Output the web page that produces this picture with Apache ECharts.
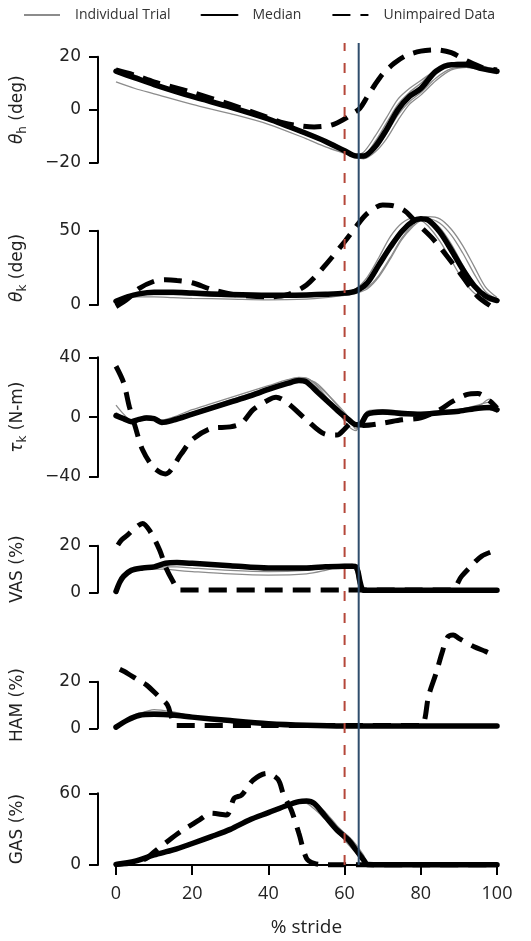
<!DOCTYPE html>
<html>
<head>
<meta charset="utf-8">
<script src="https://cdn.jsdelivr.net/npm/echarts@6/dist/echarts.min.js"></script>
<style>
html,body{margin:0;padding:0;background:#ffffff;}
#chart{width:531px;height:941px;}
</style>
</head>
<body>
<div id="chart"></div>
<script>
// ---------------- DATA ----------------
const legendNames = ['Individual Trial', 'Median', 'Unimpaired Data'];
const xTicks = [0, 20, 40, 60, 80, 100];
const eventLines = [60, 63.7]; // red dashed, blue solid (% stride)

// Panel 1: hip angle (deg)
const yTicksHip = [-20, 0, 20];
const xHip = [0,5,10,20,30,40,50,55,60,63,65,68,71,74,77,80,84,88,92,96,100];
const medHip = [14.5,12,9.5,5,1,-3.5,-9,-12,-15.5,-17.5,-17.5,-14,-7.5,0,5,8,14.5,17,17,15.5,14.5];
const trHip1 = [10.5,8,6,2,-1.5,-5.5,-11,-14,-16.5,-18,-18.5,-16,-11,-4,2,5.5,11,15,16,15,14];
const trHip2 = [15,12.5,10,5.5,1.5,-3,-8.5,-11.5,-15,-17,-16,-10,-3,4,8,11,15,17.5,18,16,15];
const trHip3 = [14,12,9,4.5,0.5,-4,-9.5,-12.5,-15.5,-18,-18,-15,-9,-2,3,6.5,12,15.5,16,15,13.5];
const trHip4 = [15.5,13,10,5.5,1.5,-3,-8.5,-11.5,-15,-17,-17,-12,-5,2,6.5,10,15,17.5,18,16.5,15];
const xUnHip = [0,5,10,20,30,40,44,48,52,56,58,60,62,64,66,68,70,73,76,80,84,88,92,96,100];
const unHip = [15,13,10.5,6.5,2,-3,-5,-6,-6.5,-6,-5,-3.5,-1.5,0.5,5,9.5,13.5,17.5,20.3,22.1,22.6,21.5,18.5,16,15];

// Panel 2: knee angle (deg)
const yTicksKnee = [0, 50];
const xKnee = [0,3,6,10,15,20,30,40,50,55,60,63,66,69,72,75,78,80,82,85,88,91,94,97,100];
const medKnee = [2.5,5.5,7.5,8.5,8.5,8,7,6.5,6.8,7.2,8,9.5,15,27,39,49.5,56.5,58,57,49,37,24,13,6,3];
const trKnee1 = [2,4.5,5.5,5.5,5,4.5,4,3.5,4,5,6.5,8,11,19,31,44,53,57,58,55,47,35,21,9,4];
const trKnee2 = [3,6,8,9,9,8.5,7.5,7,7,7.5,8.5,11,19,32,46,55,58.5,57,53,43,30,17,8,3.5,2];
const trKnee3 = [2.5,5,7,8,8,7.5,6.5,6,6.5,7,8,10,15,27,40,51,57.5,59,58,52,41,27,14,6,3];
const trKnee4 = [2,5,6.5,7,7,6.5,5.5,5,5.5,6.5,7.5,9,12,20,32,45,54,58,59.5,58,51,40,26,12,5];
const xUnKnee = [0,3,6,10,13,16,20,25,30,35,40,45,50,55,60,63,66,70,73,76,79,83,87,91,95,100];
const unKnee = [-1,4,11,16,17,16.5,15,10.5,7.5,6,5.5,7,13.5,27,42.6,52.7,61.7,67.3,66.6,63,55,45,32.5,19,5.6,-3.4];

// Panel 3: knee torque (N-m)
const yTicksTorque = [-40, 0, 40];
const xTorque = [0,2,4,6,8,10,12,15,20,25,30,35,40,45,48,50,53,56,59,61,63,64,66,70,75,80,85,90,95,98,100];
const medTorque = [1,-1,-3,-1.5,-0.5,-1,-3.5,-2,2,6,10,14,18.5,22.5,24.5,23.5,16.5,9.5,2.5,-1.5,-5,-5,2,3.5,2.5,2,3,4,6,6.5,5];
const trTorque1 = [8,2,-2,-1,0,0,-2,0,5,9,13,17,21,25,26.5,26,21,14,6,0,-8,-4,3,4,1,2,4,5,8,10,6];
const trTorque2 = [2,-1,-3,-2,-1,-1.5,-4,-3,1,5,9,13,17.5,22,24,25,22,14,5,-2,-6,-6,1,2,3,1,2,4,5,7,3];
const trTorque3 = [0,-2,-4,-2,0,-0.5,-2,-1,3,7,11.5,15.5,20,24,26,26,20,11,1,-6,-9,-4,4,5,4,3,4,5,7,12,8];
const trTorque4 = [3,0,-3,-1,1,0,-3,-1.5,2.5,6.5,10.5,14.5,19,23,25,24.5,18,11,4,0,-4,-3,3,2,2,3,3,5,6,5,4];
const xUnTorque = [0,2,3.5,5,7,10,13,17,20,25,30,33,36,40,42,45,50,55,58,60,62,65,70,75,80,85,88,92,95,98,100];
const unTorque = [34,23,7,-6,-22,-34,-38,-25,-15,-7.5,-6.5,-4,5,11.5,13.3,9.5,-1.8,-11.5,-12,-8,-3.5,-5.5,-4,-1.8,-0.5,5,10,15,15.8,11,6];

// Panel 4: VAS activation (%)
const yTicksVas = [0, 20];
const xVas = [0,1,2,4,7,10,13,16,20,30,40,50,55,60,62,63,63.5,64,64.5,65,70,80,90,100];
const medVas = [0.5,4.5,7,9.5,10.5,11,12.5,12.8,12.5,11.5,10.5,10.5,11,11.3,11.3,11,9,5,2,1,1,1,1,1];
const trVas1 = [0.5,4,6.5,9,10,10,10,9.5,9,8,7.5,8,9.5,11.5,11,9,5,2,1,1,1,1,1,1];
const trVas2 = [0.5,5,7.5,10,10.5,11,13,13.5,13,12,11,11,11.5,12,12,11.5,11,9,4,1.5,1,1,1,1];
const trVas3 = [0.5,4.5,7,9.5,10.5,10.5,11,11,10.5,9.5,9,9.5,10.5,11.5,12,9,4,2,1,1,1,1,1,1];
const trVas4 = [0.5,4,6.5,9,10,10.5,12,12.5,12,11,10,10,10.5,11,11,11,10.5,7,3,1.5,1,1,1,1];
const xUnVas = [0.5,1.5,3,5,7,9,11.5,13,15,16.5,20,30,40,50,60,70,80,88,90.7,93,96,100];
const unVas = [20.3,22.5,24.5,27.5,29.5,26,18,11,4.7,1.2,1.2,1.2,1.2,1.2,1.2,1.2,1.2,1.2,7,11,15.6,18.2];

// Panel 5: HAM activation (%)
const yTicksHam = [0, 20];
const xHam = [0,3,6,10,15,20,30,40,50,60,70,80,90,100];
const medHam = [0.5,3.5,5.5,6,5.7,4.8,3.3,2,1.3,1,1,1,1,1];
const trHam1 = [0.5,4,6.5,7,6.5,5.3,3.6,2.2,1.4,1,1,1,1,1];
const trHam2 = [0.5,3.5,6,8,7,5.3,3.4,2,1.3,1,1,1,1,1];
const trHam3 = [0.5,3,5,5.5,5.2,4.4,3,1.8,1.2,1,1,1,1,1];
const trHam4 = [0.5,3.3,5.2,6.2,6,5,3.4,2.1,1.4,1,1,1,1,1];
const xUnHam = [1,3,6,8,11,13.5,14.5,15.5,20,40,60,80,81,82,84,85.5,87,88.5,90,94,97,100];
const unHam = [25.3,23.6,20.5,18.6,14,10,5,1.2,1.2,1.2,1.2,1.2,3.6,13.6,23.6,32,39,40,38.6,35,33,30.7];

// Panel 6: GAS activation (%)
const yTicksGas = [0, 60];
const xGas = [0,5,10,15,20,25,30,35,40,45,48,50,52,55,58,61,63,65,66,70,80,90,100];
const medGas = [0.5,3.3,8.4,12.6,18,23.7,29.8,37.7,43.8,50,53,53.5,51.6,40.4,29.3,21,12.6,4.2,0.5,0.3,0.3,0.3,0.3];
const trGas1 = [0.5,3.5,8.5,13,18.5,24,30,38,44,50,52,51.5,47,38,28,17,10,3,0.5,0.3,0.3,0.3,0.3];
const trGas2 = [0.5,3,8,12.5,18,23.5,29.5,37,43.5,49.5,52.5,53.5,52.5,44,33,23,15,6,1.5,0.3,0.3,0.3,0.3];
const trGas3 = [0.5,3.5,8.5,13,18.5,24.5,30.5,38.5,45,51,53.5,54,52,41,30,20,11,3,0.5,0.3,0.3,0.3,0.3];
const trGas4 = [0.5,3.2,8.2,12.5,17.8,23.5,29.5,37.5,43.5,49.5,52.5,53,51,42,32,24,17,8,2,0.3,0.3,0.3,0.3];
const xUnGas = [0,5,8,10,14,17,20,22,25,29,31,33,36,39.5,42.5,44,46,48,50,52,55,60,80,100];
const unGas = [0.5,2,5.6,11,21,28,34,38,43.3,41.8,55.8,58.6,71,76.7,71.7,58.6,46,26.5,5.6,1.4,0.3,0.3,0.3,0.3];

// ---------------- LAYOUT / BUILD ----------------
const FONT_Y = 'DejaVu Sans';
const FONT_X = 'Open Sans';
const TXT = '#222222';

const panels = [
  {name: '{g|θ}{s|h}{n| (deg)}', ticks: yTicksHip, top: 56.7, height: 106,
   x: xHip, med: medHip, trials: [trHip1, trHip2, trHip3, trHip4], xu: xUnHip, un: unHip},
  {name: '{g|θ}{s|k}{n| (deg)}', ticks: yTicksKnee, top: 230.7, height: 74.3,
   x: xKnee, med: medKnee, trials: [trKnee1, trKnee2, trKnee3, trKnee4], xu: xUnKnee, un: unKnee},
  {name: '{g|τ}{s|k}{n| (N-m)}', ticks: yTicksTorque, top: 357.3, height: 119.7,
   x: xTorque, med: medTorque, trials: [trTorque1, trTorque2, trTorque3, trTorque4], xu: xUnTorque, un: unTorque},
  {name: '{n|VAS (%)}', ticks: yTicksVas, top: 545.7, height: 47,
   x: xVas, med: medVas, trials: [trVas1, trVas2, trVas3, trVas4], xu: xUnVas, un: unVas},
  {name: '{n|HAM (%)}', ticks: yTicksHam, top: 681.7, height: 46.6,
   x: xHam, med: medHam, trials: [trHam1, trHam2, trHam3, trHam4], xu: xUnHam, un: unHam},
  {name: '{n|GAS (%)}', ticks: yTicksGas, top: 793.3, height: 71.7,
   x: xGas, med: medGas, trials: [trGas1, trGas2, trGas3, trGas4], xu: xUnGas, un: unGas}
];

function zip(xs, ys) { return xs.map((v, i) => [v, ys[i]]); }
const minus = v => String(v).replace('-', '\u2212');

const nameRich = {
  g: {fontStyle: 'italic', fontSize: 17, fontFamily: FONT_Y, lineHeight: 22, color: TXT},
  s: {fontSize: 12, fontFamily: FONT_Y, lineHeight: 12, verticalAlign: 'bottom', color: TXT},
  n: {fontSize: 17, fontFamily: FONT_Y, lineHeight: 22, color: TXT}
};

const grids = [], xAxes = [], yAxes = [], series = [];
const LEFT = 116, RIGHT = 34;
const SMOOTH = 0.3;

panels.forEach((p, i) => {
  grids.push({left: LEFT, right: RIGHT, top: p.top, height: p.height, containLabel: false, outerBoundsMode: 'none'});
  const isLast = i === panels.length - 1;
  xAxes.push({
    gridIndex: i, type: 'value', min: xTicks[0], max: xTicks[xTicks.length - 1],
    interval: xTicks[1] - xTicks[0], show: isLast,
    axisLine: {show: true, onZero: false, lineStyle: {color: '#000', width: 2}},
    axisTick: {show: true, length: 10, lineStyle: {color: '#000', width: 2}},
    axisLabel: {margin: 20, fontSize: 18, fontFamily: FONT_X, color: TXT},
    splitLine: {show: false},
    name: isLast ? '% stride' : '', nameLocation: 'middle', nameGap: 53,
    nameTextStyle: {fontSize: 19, fontFamily: FONT_X, color: TXT}
  });
  const t = p.ticks;
  yAxes.push({
    gridIndex: i, type: 'value', min: t[0], max: t[t.length - 1],
    interval: t.length > 1 ? t[1] - t[0] : 1, offset: 18,
    axisLine: {show: true, onZero: false, lineStyle: {color: '#000', width: 2}},
    axisTick: {show: true, length: 9, lineStyle: {color: '#000', width: 2}},
    axisLabel: {margin: 17, fontSize: 17, fontFamily: FONT_Y, color: TXT, formatter: minus},
    splitLine: {show: false},
    name: p.name, nameLocation: 'middle', nameRotate: 90, nameGap: 69,
    nameTextStyle: {fontSize: 17, fontFamily: FONT_Y, color: TXT, rich: nameRich}
  });
  p.trials.forEach(tr => {
    series.push({
      name: legendNames[0], type: 'line', xAxisIndex: i, yAxisIndex: i,
      data: zip(p.x, tr), symbol: 'none', smooth: SMOOTH, clip: false, z: 2,
      lineStyle: {color: '#8c8c8c', width: 1.3}, silent: true
    });
  });
  series.push({
    name: legendNames[1], type: 'line', xAxisIndex: i, yAxisIndex: i,
    data: zip(p.x, p.med), symbol: 'none', smooth: SMOOTH, clip: false, z: 3,
    lineStyle: {color: '#000', width: 5.5, cap: 'round', join: 'round'}, silent: true
  });
  series.push({
    name: legendNames[2], type: 'line', xAxisIndex: i, yAxisIndex: i,
    data: zip(p.xu, p.un), symbol: 'none', smooth: SMOOTH, clip: false, z: 4,
    lineStyle: {color: '#000', width: 5, type: [18, 10]}, silent: true
  });
});

// overlay grid for the two event lines spanning all panels
const ov = panels.length;
grids.push({left: LEFT, right: RIGHT, top: 43, height: 822, containLabel: false, outerBoundsMode: 'none'});
xAxes.push({gridIndex: ov, type: 'value', min: 0, max: 100, show: false});
yAxes.push({gridIndex: ov, type: 'value', min: 0, max: 1, show: false});
series.push({
  name: 'stance-end', type: 'line', xAxisIndex: ov, yAxisIndex: ov, z: 6, silent: true,
  data: [[eventLines[0], 0], [eventLines[0], 1]], symbol: 'none',
  lineStyle: {color: '#b5473a', width: 2, type: [10, 12]}
});
series.push({
  name: 'toe-off', type: 'line', xAxisIndex: ov, yAxisIndex: ov, z: 6, silent: true,
  data: [[eventLines[1], 0], [eventLines[1], 1]], symbol: 'none',
  lineStyle: {color: '#2f4d6c', width: 2}
});

const chart = echarts.init(document.getElementById('chart'), null, {renderer: 'canvas'});
chart.setOption({
  animation: false,
  backgroundColor: '#ffffff',
  legend: {
    data: legendNames, top: 3, left: 18, itemWidth: 36, itemHeight: 14, itemGap: 30,
    selectedMode: false,
    itemStyle: {opacity: 0},
    textStyle: {fontFamily: FONT_X, fontSize: 14, color: '#333', padding: [0, 0, 0, 10]}
  },
  grid: grids,
  xAxis: xAxes,
  yAxis: yAxes,
  series: series
});
</script>
</body>
</html>
